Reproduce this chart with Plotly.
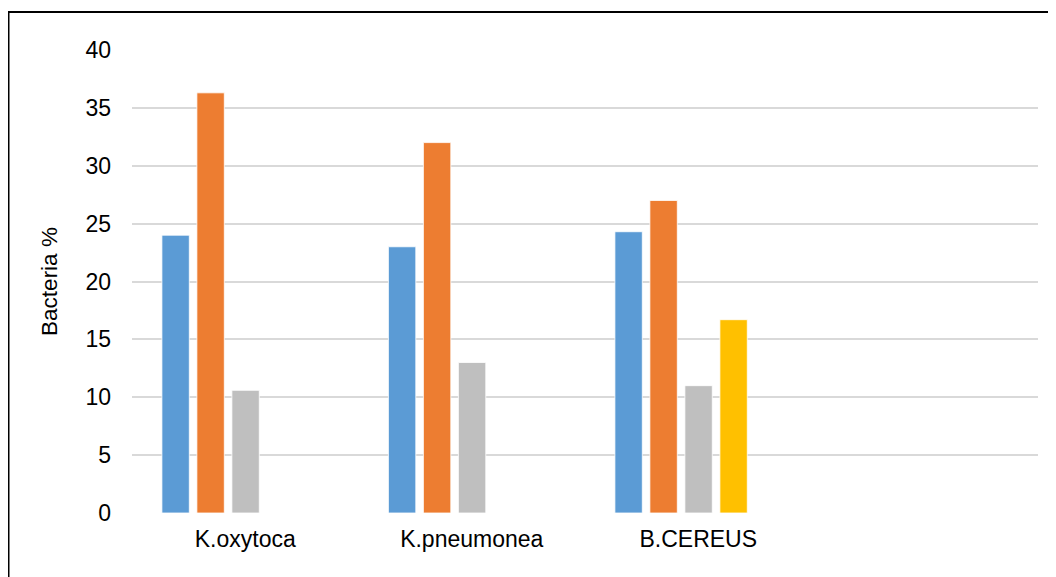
import plotly.graph_objects as go

categories = ["K.oxytoca", "K.pneumonea", "B.CEREUS"]
series_names = ["Series 1", "Series 2", "Series 3", "Series 4"]
series_values = [
    [24.0, 23.0, 24.3],
    [36.3, 32.0, 27.0],
    [10.6, 13.0, 11.0],
    [None, None, 16.7],
]
colors = ["#5B9BD5", "#ED7D31", "#BFBFBF", "#FFC000"]
y_ticks = [0, 5, 10, 15, 20, 25, 30, 35, 40]

fig = go.Figure()
bar_w = 0.121
step = 0.1545
start = -0.368
for i, (name, vals) in enumerate(zip(series_names, series_values)):
    fig.add_trace(go.Bar(
        x=categories, y=vals, name=name,
        marker=dict(color=colors[i], line=dict(color="white", width=0.8)),
        width=bar_w, offset=start + i * step,
        showlegend=False,
    ))

L, R, T, B = 124, 26, 42, 72
pw, ph = 1056 - L - R, 577 - T - B
fig.update_layout(
    width=1056, height=577,
    margin=dict(l=L, r=R, t=T, b=B),
    paper_bgcolor="white", plot_bgcolor="white",
    barmode="group",
    font=dict(family="Liberation Sans, Arial, sans-serif", size=23, color="#000000"),
    xaxis=dict(
        type="category", range=[-0.5, 3.5], showgrid=False, showline=False,
        zeroline=False, ticks="", tickfont=dict(size=23), ticklabelstandoff=10,
    ),
    yaxis=dict(
        range=[0, 40], tickvals=y_ticks, showgrid=True, gridcolor="#D9D9D9",
        gridwidth=1.6, zeroline=False, showline=False, ticks="",
        tickfont=dict(size=23), ticklabelstandoff=20,
        title=dict(text="Bacteria %", font=dict(size=22.5), standoff=21),
    ),
    shapes=[dict(
        type="rect", xref="paper", yref="paper",
        x0=(0.5 - L) / pw, x1=1.1, y0=-0.3, y1=1 + (T - 4) / ph,
        line=dict(color="black", width=2), fillcolor="rgba(0,0,0,0)", layer="above",
    )],
)
fig.write_html("out.html")
